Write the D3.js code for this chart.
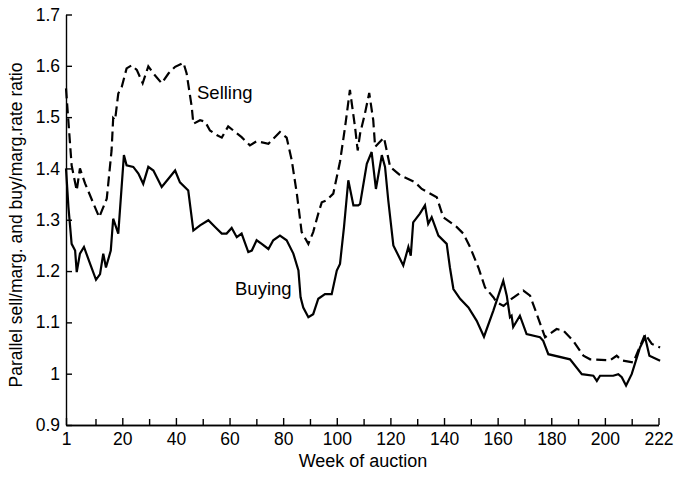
<!DOCTYPE html>
<html>
<head>
<meta charset="utf-8">
<title>Parallel / marginal rate ratio</title>
<script src="https://cdn.jsdelivr.net/npm/d3@7"></script>
<style>
    body { margin: 0; background: #fff; }
    svg text { font-family: "Liberation Sans", Arial, sans-serif; fill: #000; }
    .axis path, .axis line { stroke: #000; stroke-width: 1.4px; }
    .axis text { font-size: 17.5px; }
</style>
</head>
<body>
<svg width="680" height="483"></svg>
<script>

// week positions (axis origin is labelled "1", last tick "222")
var sellWeeks = [-1, 1.1, 3, 4.2, 6.1, 9.2, 11.4, 14.2, 16, 16.6, 17.3, 18.5, 19.8, 21.6, 23.5, 25.4, 27.6, 29.7,
    31.6, 34.7, 37.2, 39.7, 42.8, 44, 45.9, 46.5, 49, 50.9, 52.7, 55.2, 57.1, 59.5, 61.4, 64.5, 67.6, 70.1,
    74.5, 78.8, 81.3, 83.2, 85.1, 86.9, 89.4, 91.2, 93.1, 94.4, 96.2, 98.7, 101.2, 103.1, 104.9, 106.8, 107.8,
    108.7, 110.5, 112.1, 113.6, 114.3, 117.6, 119.9, 123.6, 129.2, 131.7, 137.3, 139.7, 144.7, 147.2, 149.7,
    152.8, 155.3, 158.4, 159.7, 162.2, 165.2, 169.6, 172.1, 177.7, 182, 184.5, 188.2, 192, 194.5, 201.9, 204.4,
    206.3, 210.6, 215, 217.5, 220.6];
var sellValues = [1.556, 1.406, 1.357, 1.4, 1.371, 1.332, 1.305, 1.341, 1.435, 1.498, 1.494, 1.546, 1.559, 1.595,
    1.601, 1.592, 1.566, 1.599, 1.585, 1.566, 1.585, 1.598, 1.606, 1.585, 1.52, 1.487, 1.494, 1.491, 1.474, 1.465,
    1.46, 1.482, 1.474, 1.461, 1.445, 1.453, 1.448, 1.471, 1.46, 1.416, 1.351, 1.276, 1.253, 1.276, 1.312, 1.334,
    1.338, 1.351, 1.413, 1.481, 1.553, 1.481, 1.435, 1.468, 1.507, 1.547, 1.494, 1.442, 1.46, 1.403, 1.387, 1.373,
    1.36, 1.344, 1.305, 1.286, 1.273, 1.247, 1.207, 1.168, 1.149, 1.139, 1.132, 1.146, 1.162, 1.152, 1.071, 1.087,
    1.084, 1.064, 1.035, 1.028, 1.026, 1.035, 1.026, 1.022, 1.077, 1.058, 1.051];

var buyWeeks = [-1, -0.1, 1.1, 2.4, 3, 4.2, 5.7, 8, 10.2, 11.7, 12.9, 13.9, 15.7, 16.6, 18.5, 20.6, 21.6, 24.1,
    26, 27.8, 29.7, 31.6, 34.7, 37.2, 39.7, 41.5, 44.6, 46.5, 49, 52.1, 54.6, 57.1, 58.9, 60.8, 62.7, 64.5, 67,
    68.3, 70.1, 72, 74.5, 76.3, 78.8, 81.3, 83.8, 85.7, 86.5, 87.5, 89.4, 91.2, 93.1, 95.6, 98.1, 100, 101.2,
    102.7, 104.3, 106.2, 108, 108.7, 111.2, 113, 114.6, 116.8, 118, 119.2, 121.1, 124.8, 126.7, 127.6, 128.5,
    131, 132.9, 134.1, 135.4, 137.9, 141, 142.2, 143.5, 146, 149.1, 152.2, 154.9, 158.4, 162.1, 163.4, 164.6,
    165.2, 165.8, 168.3, 170.8, 175.8, 177, 178.9, 187, 191.4, 195.7, 197, 198.2, 203.1, 205, 206.3, 207.9, 210,
    213.1, 215, 216.6, 220.6];
var buyValues = [1.4, 1.325, 1.253, 1.24, 1.198, 1.234, 1.247, 1.214, 1.183, 1.194, 1.234, 1.207, 1.24, 1.302,
    1.273, 1.426, 1.406, 1.403, 1.39, 1.37, 1.403, 1.396, 1.364, 1.38, 1.396, 1.373, 1.357, 1.279, 1.289, 1.299,
    1.286, 1.273, 1.273, 1.284, 1.266, 1.273, 1.237, 1.24, 1.26, 1.253, 1.243, 1.26, 1.269, 1.26, 1.234, 1.201,
    1.149, 1.129, 1.11, 1.116, 1.146, 1.155, 1.155, 1.201, 1.214, 1.286, 1.377, 1.328, 1.328, 1.331, 1.409, 1.432,
    1.36, 1.426, 1.403, 1.338, 1.25, 1.211, 1.247, 1.23, 1.295, 1.312, 1.328, 1.292, 1.305, 1.269, 1.253, 1.207,
    1.165, 1.146, 1.129, 1.103, 1.072, 1.123, 1.181, 1.152, 1.11, 1.113, 1.091, 1.113, 1.077, 1.071, 1.064, 1.038,
    1.028, 0.999, 0.996, 0.986, 0.996, 0.996, 0.999, 0.993, 0.977, 0.999, 1.051, 1.071, 1.035, 1.025];

var yTicks = [0.9, 1, 1.1, 1.2, 1.3, 1.4, 1.5, 1.6, 1.7];
var yTickLabels = ["0.9", "1", "1.1", "1.2", "1.3", "1.4", "1.5", "1.6", "1.7"];
var xTicks = [-1, 20, 40, 60, 80, 100, 120, 140, 160, 180, 200, 220];
var xTickLabels = ["1", "20", "40", "60", "80", "100", "120", "140", "160", "180", "200", "222"];
var xMinorTicks = [10, 30, 50, 70, 90, 110, 130, 150, 170, 190, 210];

var svg = d3.select("svg");

var x = d3.scaleLinear().domain([-1, 220]).range([66, 658.5]);
var y = d3.scaleLinear().domain([0.9, 1.7]).range([425, 14.5]);

var sell = sellWeeks.map(function(w, i) { return [w, sellValues[i]]; });
var buy = buyWeeks.map(function(w, i) { return [w, buyValues[i]]; });

var line = d3.line()
    .x(function(d) { return x(d[0]); })
    .y(function(d) { return y(d[1]); });

svg.append("path")
    .datum(sell)
    .attr("d", line)
    .attr("fill", "none")
    .attr("stroke", "#000")
    .attr("stroke-width", 2.2)
    .attr("stroke-dasharray", "10,5");

svg.append("path")
    .datum(buy)
    .attr("d", line)
    .attr("fill", "none")
    .attr("stroke", "#000")
    .attr("stroke-width", 2.2);

// axes, ticks pointing inwards
svg.append("g")
    .attr("class", "axis")
    .attr("transform", "translate(0," + y(0.9) + ")")
    .call(d3.axisBottom(x).tickValues(xMinorTicks).tickSize(-6).tickSizeOuter(0).tickFormat(""));

svg.append("g")
    .attr("class", "axis")
    .attr("transform", "translate(0," + y(0.9) + ")")
    .call(d3.axisBottom(x).tickValues(xTicks).tickSize(-7).tickSizeOuter(0).tickPadding(8)
        .tickFormat(function(d, i) { return xTickLabels[i]; }));

svg.append("g")
    .attr("class", "axis")
    .attr("transform", "translate(" + x(-1) + ",0)")
    .call(d3.axisLeft(y).tickValues(yTicks).tickSize(-6).tickSizeOuter(0).tickPadding(6)
        .tickFormat(function(d, i) { return yTickLabels[i]; }));

// titles and series labels
svg.append("text")
    .attr("x", 363)
    .attr("y", 467)
    .attr("text-anchor", "middle")
    .style("font-size", "18px")
    .text("Week of auction");

svg.append("text")
    .attr("transform", "translate(22,225) rotate(-90)")
    .attr("text-anchor", "middle")
    .style("font-size", "17.5px")
    .text("Parallel sell/marg. and buy/marg.rate ratio");

svg.append("text")
    .attr("x", 197)
    .attr("y", 99)
    .style("font-size", "18.5px")
    .text("Selling");

svg.append("text")
    .attr("x", 235)
    .attr("y", 295)
    .style("font-size", "18.5px")
    .text("Buying");

</script>
</body>
</html>
